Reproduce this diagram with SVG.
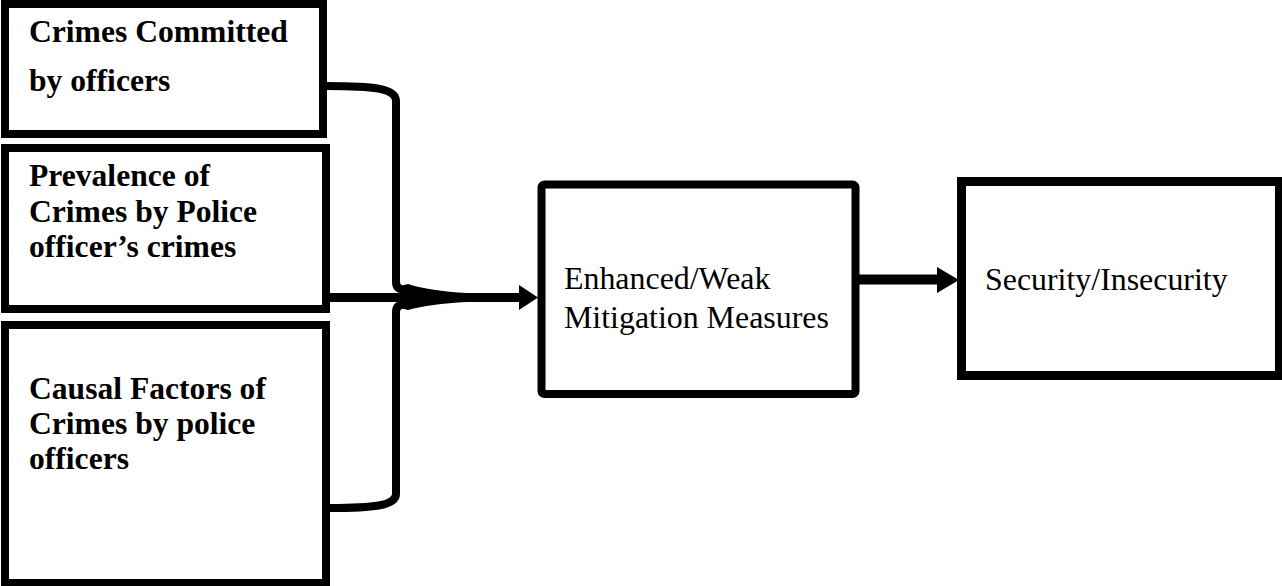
<svg xmlns="http://www.w3.org/2000/svg" width="1282" height="586" viewBox="0 0 1282 586">
<style>
.box{fill:#fff;stroke:#000;stroke-width:8}
.b{font-family:"Liberation Serif","Times New Roman",serif;font-weight:bold;font-size:31.6px;fill:#000}
.r{font-family:"Liberation Serif","Times New Roman",serif;font-size:31.9px;fill:#000}
.ln{fill:none;stroke:#000;stroke-width:8;stroke-linecap:butt}
.head{fill:#000}
</style>
<rect width="1282" height="586" fill="#fff"/>
<g id="crimes-committed">
<rect class="box" x="5" y="4" width="318" height="130"/>
<text class="b" x="29" y="42">Crimes Committed</text>
<text class="b" x="29" y="91">by officers</text>
</g>
<g id="prevalence">
<rect class="box" x="5" y="148" width="321" height="161"/>
<text class="b" x="29" y="186">Prevalence of</text>
<text class="b" x="29" y="222">Crimes by Police</text>
<text class="b" x="29" y="257">officer’s crimes</text>
</g>
<g id="causal-factors">
<rect class="box" x="5" y="325" width="321" height="258"/>
<text class="b" x="29" y="399">Causal Factors of</text>
<text class="b" x="29" y="434">Crimes by police</text>
<text class="b" x="29" y="469">officers</text>
</g>
<g id="mitigation">
<rect class="box" x="541.5" y="184.5" width="314" height="209.5" rx="3"/>
<text class="r" x="564" y="289">Enhanced/Weak</text>
<text class="r" x="564" y="328">Mitigation Measures</text>
</g>
<g id="security">
<rect class="box" x="961.5" y="181.5" width="318" height="194" style="stroke-width:9"/>
<text class="r" x="985" y="290">Security/Insecurity</text>
</g>
<g id="connectors">
<path class="ln" d="M327,86 C372,86 396,88 396,101 L396,282 Q396,290 406,290"/>
<path class="ln" d="M330,508 C372,508 396,506 396,494 L396,312 Q396,304 406,304"/>
<path d="M400,286 L408,284 Q430,291 467,293 L467,302 Q430,304 408,310 L400,308 Z" fill="#000"/>
<line class="ln" x1="330" y1="297.5" x2="522" y2="297.5" style="stroke-width:9"/>
<path class="head" d="M519,285 L538,297.5 L519,310 Z"/>
<line class="ln" x1="859" y1="279.5" x2="940" y2="279.5" style="stroke-width:10"/>
<path class="head" d="M937,267 L959,280 L937,293 Z"/>
</g>
</svg>
